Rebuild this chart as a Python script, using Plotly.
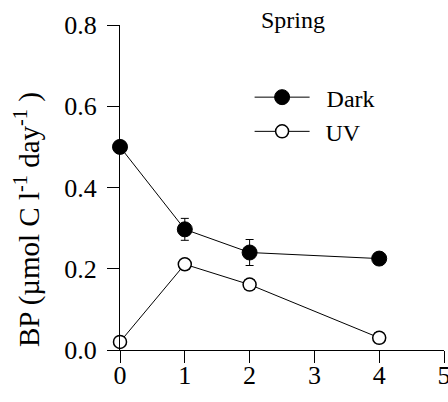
import plotly.graph_objects as go

# Incubation time (days) and bacterial production values
days = [0, 1, 2, 4]
dark_bp = [0.50, 0.297, 0.240, 0.225]
dark_err = [0.0, 0.027, 0.032, 0.0]
uv_bp = [0.020, 0.211, 0.161, 0.030]
uv_err = [0.0, 0.012, 0.012, 0.012]

x_ticks = [0, 1, 2, 3, 4, 5]
y_ticks = [0.0, 0.2, 0.4, 0.6, 0.8]

SERIF = "Liberation Serif"
NBSP = "\u00a0"
THIN = "\u2009"

fig = go.Figure()
fig.add_trace(go.Scatter(
    x=days, y=dark_bp, name=NBSP * 2 + "Dark", mode="lines+markers",
    line=dict(color="black", width=1),
    marker=dict(size=15, color="black", line=dict(color="black", width=1)),
    error_y=dict(type="data", array=dark_err, color="black", thickness=1, width=4),
    cliponaxis=False,
))
fig.add_trace(go.Scatter(
    x=days, y=uv_bp, name=NBSP + THIN + "UV", mode="lines+markers",
    line=dict(color="black", width=1),
    marker=dict(size=13, color="white", line=dict(color="black", width=1.5)),
    error_y=dict(type="data", array=uv_err, color="black", thickness=1, width=5),
    cliponaxis=False,
))

fig.update_layout(
    width=448, height=402,
    margin=dict(l=120, r=4, t=25, b=52),
    paper_bgcolor="white", plot_bgcolor="white",
    font=dict(family=SERIF, color="black", size=24),
    showlegend=True,
    legend=dict(
        x=0.40, y=0.846, xanchor="left", yanchor="top",
        bgcolor="rgba(0,0,0,0)", font=dict(size=24, family=SERIF),
        itemwidth=55, tracegroupgap=0,
    ),
    xaxis=dict(
        range=[0, 5], tickvals=x_ticks, ticktext=[str(v) for v in x_ticks],
        showline=True, linecolor="black", linewidth=1, automargin=False,
        ticks="outside", ticklen=12, tickwidth=1, tickcolor="black",
        showgrid=False, zeroline=False, ticklabeloverflow="allow",
        ticklabelstandoff=-10,
        tickfont=dict(size=26, family=SERIF),
    ),
    yaxis=dict(
        range=[0, 0.8], tickvals=y_ticks, ticktext=[f"{v:.1f}" for v in y_ticks],
        showline=True, linecolor="black", linewidth=1, automargin=False,
        ticks="outside", ticklen=12, tickwidth=1, tickcolor="black",
        showgrid=False, zeroline=False, ticklabelstandoff=5,
        tickfont=dict(size=26, family=SERIF),
    ),
    annotations=[
        dict(text="Spring", x=0.534, y=1.015, xref="paper", yref="paper",
             xanchor="center", yanchor="middle",
             showarrow=False, font=dict(size=24, family=SERIF)),
        dict(text="BP (µmol C l<sup>-1</sup> day<sup>-1</sup> )", textangle=-90,
             x=-0.287, y=0.40, xref="paper", yref="paper",
             xanchor="center", yanchor="middle",
             showarrow=False, font=dict(size=29, family=SERIF)),
    ],
)

fig.write_html("out.html")
